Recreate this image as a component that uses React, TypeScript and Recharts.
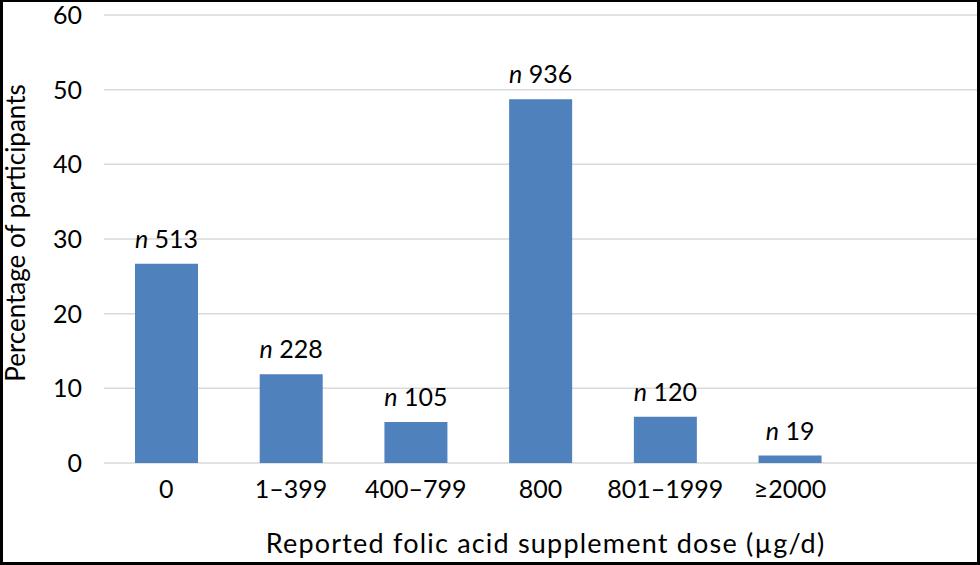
import { BarChart, Bar, XAxis, YAxis, CartesianGrid, LabelList, Label } from "recharts";

// dose groups (the last slot is empty, the source chart leaves room on the right)
const doseCategories = ["0", "1–399", "400–799", "800", "801–1999", "≥2000", ""];
const percentValues = [26.7, 11.9, 5.5, 48.7, 6.2, 1.0, null];
const nCounts = [513, 228, 105, 936, 120, 19, null];
const yTicks = [0, 10, 20, 30, 40, 50, 60];

const data = doseCategories.map((dose, i) => ({
  dose,
  pct: percentValues[i],
  n: nCounts[i],
}));

const FONT = "Lato, 'Open Sans', sans-serif";

const renderCount = (props: any) => {
  const { x, y, width, value } = props;
  if (value === null || value === undefined) return null;
  return (
    <text x={x + width / 2} y={y - 16} textAnchor="middle" fontSize={25} fontFamily={FONT} fill="#000">
      <tspan fontStyle="italic">n</tspan> {value}
    </text>
  );
};

const xTitle = (props: any) => {
  const { viewBox } = props;
  return (
    <text
      x={viewBox.x + viewBox.width / 2 + 5}
      y={553}
      textAnchor="middle"
      fontSize={27}
      letterSpacing={1.2}
      fontFamily={FONT}
      fill="#000"
    >
      Reported folic acid supplement dose (µg/d)
    </text>
  );
};

const yTitle = () => {
  const cx = 25;
  const cy = 233;
  return (
    <text
      x={cx}
      y={cy}
      transform={`rotate(-90 ${cx} ${cy})`}
      textAnchor="middle"
      fontSize={26}
      fontFamily={FONT}
      fill="#000"
    >
      Percentage of participants
    </text>
  );
};

export default function App() {
  return (
    <div
      style={{
        position: "absolute",
        left: 0,
        top: 0,
        width: 980,
        height: 565,
        background: "#fff",
      }}
    >
      <BarChart
        width={980}
        height={565}
        data={data}
        margin={{ top: 15, right: 3, left: 0, bottom: 72 }}
      >
        <CartesianGrid vertical={false} stroke="#d9d9d9" strokeWidth={1.5} />
        <XAxis
          dataKey="dose"
          axisLine={false}
          tickLine={false}
          tickMargin={11}
          tick={{ fontSize: 25, fontFamily: FONT, fill: "#000" }}
          interval={0}
        >
          <Label content={xTitle} />
        </XAxis>
        <YAxis
          width={104}
          domain={[0, 60]}
          ticks={yTicks}
          axisLine={false}
          tickLine={false}
          tickMargin={16}
          tick={{ fontSize: 25, fontFamily: FONT, fill: "#000" }}
        >
          <Label content={yTitle} />
        </YAxis>
        <Bar dataKey="pct" fill="#4f81bd" barSize={63} isAnimationActive={false}>
          <LabelList dataKey="n" content={renderCount} />
        </Bar>
      </BarChart>
      <div
        style={{
          position: "absolute",
          left: 0,
          top: 0,
          right: 0,
          bottom: 0,
          borderStyle: "solid",
          borderColor: "#000",
          borderWidth: "2px 3px 3px 3px",
          pointerEvents: "none",
        }}
      />
    </div>
  );
}
